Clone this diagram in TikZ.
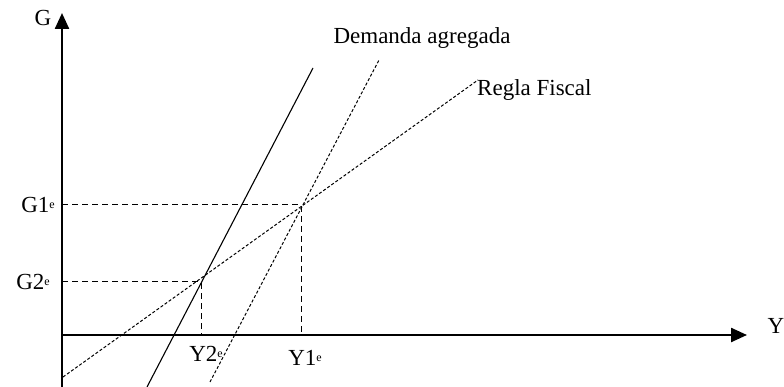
\documentclass[tikz,border=0pt]{standalone}
\usepackage{fontspec}
\setmainfont{Liberation Serif}
\usetikzlibrary{arrows.meta}
\newcommand{\supe}{\raisebox{0.35ex}{\fontsize{12}{14}\selectfont e}}
\begin{document}
\begin{tikzpicture}[x=1pt,y=-1pt,
  axis/.style={line width=2.4pt,-{Triangle[length=16pt,width=14pt]}},
  guide/.style={line width=1pt,dash pattern=on 6pt off 4pt},
  curve/.style={line width=1.1pt},
  dcurve/.style={line width=1pt,dash pattern=on 3pt off 2pt},
  lbl/.style={font=\fontsize{23}{27}\selectfont,inner sep=0pt}]
\useasboundingbox (0,0) rectangle (784,387);
% axes
\coordinate (O) at (62,387);
\coordinate (Gtop) at (62,13);
\coordinate (X0) at (62,335);
\coordinate (Xend) at (747,335);
\draw[axis] (O) -- (Gtop);
\draw[axis] (X0) -- (Xend);
\node[lbl] (G) at (43,18) {G};
\node[lbl] (Y) at (776,326) {Y};
% equilibria
\coordinate (E1) at (301,205);
\coordinate (E2) at (201,282);
\coordinate (G1a) at (62,205);
\coordinate (G2a) at (62,282);
\coordinate (Y1a) at (301,335);
\coordinate (Y2a) at (201,335);
\draw[guide] (G1a) -- (E1) -- (Y1a);
\draw[guide] (G2a) -- (E2) -- (Y2a);
% curves
\coordinate (DA1s) at (147,387);
\coordinate (DA1e) at (313,68);
\coordinate (DA2s) at (210,382);
\coordinate (DA2e) at (379,60);
\coordinate (RFs) at (63,377);
\coordinate (RFe) at (478,80);
\draw[curve] (DA1s) -- (DA1e);
\draw[dcurve] (DA2s) -- (DA2e);
\draw[dcurve] (RFs) -- (RFe);
% labels
\node[lbl] (DA) at (422,38) {Demanda agregada};
\node[lbl,anchor=west] (RF) at (477,90) {Regla Fiscal};
\node[lbl,anchor=east] (G1) at (55,205) {G1\supe};
\node[lbl,anchor=east] (G2) at (50,282) {G2\supe};
\node[lbl] (Y2) at (206,354) {Y2\supe};
\node[lbl] (Y1) at (305,358) {Y1\supe};
\end{tikzpicture}
\end{document}
